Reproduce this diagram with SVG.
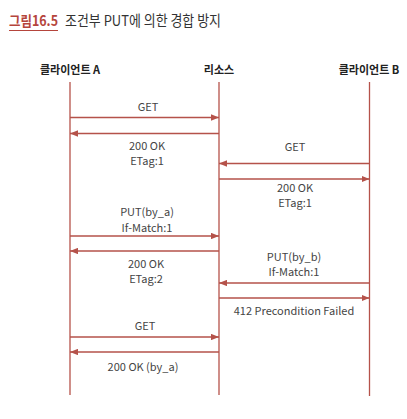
<svg xmlns="http://www.w3.org/2000/svg" width="407" height="419" viewBox="0 0 407 419">
<style>
.t{font-family:"Noto Sans CJK KR","Noto Sans",sans-serif;fill:#333;}
.h{font-family:"Noto Sans CJK KR","Noto Sans",sans-serif;font-weight:bold;font-size:11px;fill:#222;text-anchor:middle;}
.m{font-family:"Noto Sans CJK KR","Noto Sans",sans-serif;font-size:11px;fill:#444;text-anchor:middle;}
.life{stroke:#b5524a;stroke-width:1.3;fill:none;}
.msg{stroke:#b5524a;stroke-width:1.3;fill:none;marker-end:url(#ah);}
</style>
<defs>
<marker id="ah" viewBox="0 0 10 8" refX="10" refY="4" markerWidth="8" markerHeight="6.4" markerUnits="userSpaceOnUse" orient="auto">
<path d="M0,0 L10,4 L0,8 Z" fill="#b5524a"/>
</marker>
</defs>
<rect width="407" height="419" fill="#fff"/>
<g id="title">
<text x="9" y="26" class="t" style="font-size:14px;font-weight:bold;fill:#b5453c" textLength="49" lengthAdjust="spacingAndGlyphs">그림16.5</text>
<line x1="9" y1="30.5" x2="58" y2="30.5" stroke="#b5453c" stroke-width="1.2"/>
<text x="65" y="26" class="t" style="font-size:14.5px;fill:#333" textLength="156" lengthAdjust="spacingAndGlyphs">조건부 PUT에 의한 경합 방지</text>
</g>
<g id="clientA">
<text x="70" y="74" class="h">클라이언트 A</text>
<line x1="70" y1="82" x2="70" y2="395" class="life"/>
</g>
<g id="resource">
<text x="219" y="74" class="h">리소스</text>
<line x1="219" y1="82" x2="219" y2="395" class="life"/>
</g>
<g id="clientB">
<text x="369" y="74" class="h">클라이언트 B</text>
<line x1="369.5" y1="82" x2="369.5" y2="396" class="life"/>
</g>
<g id="connectors">
<line x1="70" y1="117.5" x2="219" y2="117.5" class="msg"/>
<text x="148" y="111" class="m">GET</text>
<line x1="219" y1="133.5" x2="70" y2="133.5" class="msg"/>
<text x="147" y="150" class="m">200 OK</text>
<text x="147" y="165" class="m">ETag:1</text>
<line x1="369.5" y1="163.5" x2="219" y2="163.5" class="msg"/>
<text x="295" y="151" class="m">GET</text>
<line x1="219" y1="179" x2="369.5" y2="179" class="msg"/>
<text x="295" y="192" class="m">200 OK</text>
<text x="295" y="207" class="m">ETag:1</text>
<line x1="70" y1="236" x2="219" y2="236" class="msg"/>
<text x="147" y="216" class="m">PUT(by_a)</text>
<text x="147" y="232" class="m">If-Match:1</text>
<line x1="219" y1="251" x2="70" y2="251" class="msg"/>
<text x="146" y="268" class="m">200 OK</text>
<text x="146" y="283" class="m">ETag:2</text>
<line x1="369.5" y1="283" x2="219" y2="283" class="msg"/>
<text x="294" y="261" class="m">PUT(by_b)</text>
<text x="294" y="276" class="m">If-Match:1</text>
<line x1="219" y1="298" x2="369.5" y2="298" class="msg"/>
<text x="294" y="315" class="m">412 Precondition Failed</text>
<line x1="70" y1="337" x2="219" y2="337" class="msg"/>
<text x="145" y="330" class="m">GET</text>
<line x1="219" y1="352" x2="70" y2="352" class="msg"/>
<text x="143" y="371" class="m">200  OK (by_a)</text>
</g>
</svg>
